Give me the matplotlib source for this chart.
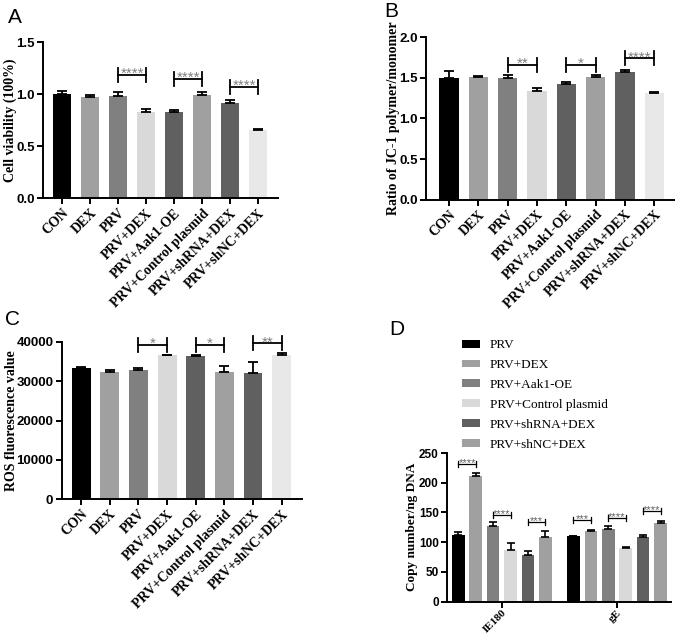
import matplotlib
matplotlib.use("Agg")
import matplotlib.pyplot as plt
import numpy as np
from matplotlib.patches import Patch
from matplotlib.transforms import offset_copy

# ---------------- data ----------------
groups = ["CON", "DEX", "PRV", "PRV+DEX", "PRV+Aak1-OE", "PRV+Control plasmid",
          "PRV+shRNA+DEX", "PRV+shNC+DEX"]
group_colors = ["#000000", "#a0a0a0", "#808080", "#d9d9d9", "#606060", "#a0a0a0",
                "#606060", "#e8e8e8"]

viability = [1.00, 0.974, 0.987, 0.829, 0.829, 0.997, 0.919, 0.661]
viability_err = [0.027, 0.016, 0.036, 0.029, 0.023, 0.022, 0.023, 0.010]

jc1 = [1.50, 1.515, 1.495, 1.343, 1.429, 1.507, 1.577, 1.310]
jc1_err = [0.08, 0.013, 0.037, 0.029, 0.025, 0.033, 0.021, 0.012]

ros = [33300, 32200, 32700, 36500, 36270, 32290, 31950, 36700]
ros_err = [340, 680, 600, 200, 430, 1520, 2880, 420]

genes = ["IE180", "gE"]
d_series = ["PRV", "PRV+DEX", "PRV+Aak1-OE", "PRV+Control plasmid", "PRV+shRNA+DEX",
            "PRV+shNC+DEX"]
d_colors = ["#000000", "#a0a0a0", "#808080", "#d9d9d9", "#606060", "#a0a0a0"]
copies = {
    "IE180": [111.7, 210.6, 126.8, 86.6, 78.8, 107.8],
    "gE": [109.5, 119.0, 122.3, 89.9, 108.9, 131.8],
}
copies_err = {
    "IE180": [4.5, 5.6, 6.2, 12.3, 6.7, 10.1],
    "gE": [1.1, 1.1, 4.0, 2.3, 2.3, 4.0],
}

# significance comparisons: (bar i, bar j, label, bracket level)
sig_a = [(2, 3, "****", 1.186), (4, 5, "****", 1.147), (6, 7, "****", 1.07)]
sig_b = [(2, 3, "**", 1.659), (4, 5, "*", 1.659), (6, 7, "****", 1.741)]
sig_c = [(2, 3, "*", 39160), (4, 5, "*", 39160), (6, 7, "**", 39590)]
sig_d = [(0, 1, "****", 231), (2, 3, "****", 146), (4, 5, "***", 133.5),
         (6, 7, "***", 137), (8, 9, "****", 141), (10, 11, "****", 152)]

# ---------------- style ----------------
SERIF = ["Liberation Serif", "DejaVu Serif"]
SANS = ["Liberation Sans", "DejaVu Sans"]
plt.rcParams["font.family"] = SANS

W, H = 676, 637
fig = plt.figure(figsize=(W / 100, H / 100), dpi=100)


def style_axes(ax, tick_fs=9.5):
    for s in ["top", "right"]:
        ax.spines[s].set_visible(False)
    for s in ["left", "bottom"]:
        ax.spines[s].set_linewidth(1.4)
    ax.tick_params(axis="both", width=1.4, length=4, direction="out", pad=2)
    for lab in ax.get_yticklabels():
        lab.set_fontfamily(SANS)
        lab.set_fontweight("bold")
        lab.set_fontsize(tick_fs)


def place_ylabel(ax, rect, text, x_px, fs=10):
    ax.set_ylabel(text, fontfamily=SERIF, fontweight="bold", fontsize=fs)
    ax.yaxis.label.set_va("center")
    ax.yaxis.set_label_coords((x_px / W - rect[0]) / rect[2], 0.5)


def bracket(ax, x1, x2, y, text, leg_px=7, fs=11, star_color="#808080", lw=1.3,
            star_dy=-3):
    y0, y1 = ax.get_ylim()
    h_px = ax.get_window_extent().height
    dy = leg_px * (y1 - y0) / h_px
    ax.plot([x1, x2], [y, y], color="black", lw=lw, clip_on=False)
    ax.plot([x1, x1], [y - dy, y + dy], color="black", lw=lw, clip_on=False)
    ax.plot([x2, x2], [y - dy, y + dy], color="black", lw=lw, clip_on=False)
    tr = offset_copy(ax.transData, fig=fig, x=0, y=star_dy, units="dots")
    ax.text((x1 + x2) / 2, y, text, ha="center", va="baseline", transform=tr,
            fontsize=fs, color=star_color, fontfamily=SANS)


def bar_panel(rect, vals, errs, ylim, yticks, yticklabels, ylabel, ylabel_x, sigs, xlim):
    ax = fig.add_axes(rect)
    x = np.arange(len(groups))
    ax.bar(x, vals, width=0.66, color=group_colors, edgecolor="none", zorder=2)
    ax.errorbar(x, vals, yerr=[np.zeros(len(errs)), errs], fmt="none",
                ecolor="black", elinewidth=1.3, capsize=3.5, capthick=1.3, zorder=3)
    ax.set_xlim(*xlim)
    ax.set_ylim(*ylim)
    ax.set_yticks(yticks)
    ax.set_yticklabels(yticklabels)
    ax.set_xticks(x)
    ax.set_xticklabels(groups, rotation=45, ha="right", rotation_mode="anchor",
                       fontfamily=SERIF, fontweight="bold", fontsize=10)
    place_ylabel(ax, rect, ylabel, ylabel_x)
    style_axes(ax)
    for i, j, t, lvl in sigs:
        bracket(ax, i, j, lvl, t)
    return ax


rectA = [43 / W, 1 - 198.3 / H, 235 / W, 156 / H]
rectB = [426 / W, 1 - 199.7 / H, 248 / W, 162.4 / H]
rectC = [61.7 / W, 1 - 499.3 / H, 240.3 / W, 157.6 / H]
rectD = [447 / W, 1 - 601.5 / H, 224 / W, 148.5 / H]

axA = bar_panel(rectA, viability, viability_err, (0, 1.5), [0, 0.5, 1.0, 1.5],
                ["0.0", "0.5", "1.0", "1.5"], "Cell viability (100%)", 10, sig_a,
                (-0.68, 7.71))
axB = bar_panel(rectB, jc1, jc1_err, (0, 2.0), [0, 0.5, 1.0, 1.5, 2.0],
                ["0.0", "0.5", "1.0", "1.5", "2.0"], "Ratio of JC-1 polymer/monomer",
                393, sig_b, (-0.78, 7.67))
axC = bar_panel(rectC, ros, ros_err, (0, 40000), [0, 10000, 20000, 30000, 40000],
                ["0", "10000", "20000", "30000", "40000"], "ROS fluorescence value",
                12, sig_c, (-0.68, 7.71))

# ---------------- panel D ----------------
axD = fig.add_axes(rectD)
gap = 6.6
positions = []
for gi, g in enumerate(genes):
    xs = np.arange(len(d_series)) + gi * gap
    positions.extend(xs)
for si, s in enumerate(d_series):
    xs = [si + gi * gap for gi in range(len(genes))]
    vals = [copies[g][si] for g in genes]
    errs = [copies_err[g][si] for g in genes]
    axD.bar(xs, vals, width=0.72, color=d_colors[si], edgecolor="none", label=s, zorder=2)
    axD.errorbar(xs, vals, yerr=[np.zeros(len(errs)), errs], fmt="none", ecolor="black",
                 elinewidth=1.2, capsize=2.8, capthick=1.2, zorder=3)
axD.set_xlim(-0.65, 12.2)
axD.set_ylim(0, 250)
axD.set_yticks([0, 50, 100, 150, 200, 250])
axD.set_yticklabels(["0", "50", "100", "150", "200", "250"])
centers = [(len(d_series) - 1) / 2 + gi * gap for gi in range(len(genes))]
axD.set_xticks(centers)
axD.set_xticklabels(genes, rotation=45, ha="right", rotation_mode="anchor",
                    fontfamily=SERIF, fontweight="bold", fontsize=8)
place_ylabel(axD, rectD, "Copy number/ng DNA", 412, fs=9.5)
style_axes(axD, tick_fs=8.5)
axD.tick_params(axis="x", pad=1)
for i, j, t, lvl in sig_d:
    bracket(axD, positions[i], positions[j], lvl, t, leg_px=3, fs=8,
            star_color="#606060", lw=0.9, star_dy=-2)

handles = [Patch(facecolor=c, edgecolor="none") for c in d_colors]
fig.legend(handles, d_series, loc="upper left",
           bbox_to_anchor=(453 / W, 1 - 330 / H), frameon=False,
           prop={"family": SERIF, "size": 9.5}, handlelength=1.35, handleheight=0.55,
           handletextpad=0.75, labelspacing=0.6, borderpad=0.2)

# panel letters
for lab, (px, py) in zip("ABCD", [(8, 23), (384, 17), (5, 325), (389, 335)]):
    fig.text(px / W, 1 - py / H, lab, fontsize=15, fontfamily=SANS,
             ha="left", va="baseline")

fig.savefig("out.png", dpi=100)
